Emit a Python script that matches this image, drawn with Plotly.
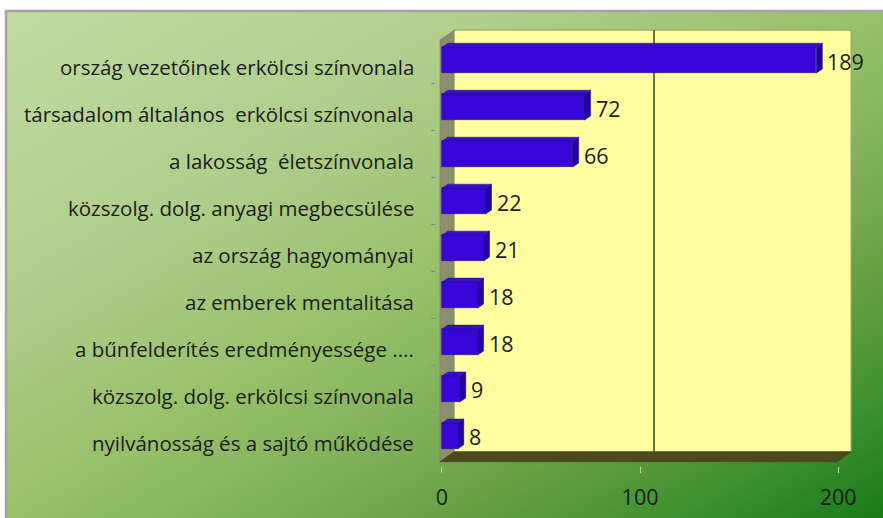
import base64

import plotly.graph_objects as go

# --- data -------------------------------------------------------------------
categories = [
    "ország vezetőinek erkölcsi színvonala",
    "társadalom általános  erkölcsi színvonala",
    "a lakosság  életszínvonala",
    "közszolg. dolg. anyagi megbecsülése",
    "az ország hagyományai",
    "az emberek mentalitása",
    "a bűnfelderítés eredményessége ....",
    "közszolg. dolg. erkölcsi színvonala",
    "nyilvánosság és a sajtó működése",
]
values = [189, 72, 66, 22, 21, 18, 18, 9, 8]
x_ticks = [0, 100, 200]
grid_at = [100]

# --- geometry / style -------------------------------------------------------
W, H = 883, 518
M_L, M_R, M_T, M_B = 436, 31, 24, 52
X_RANGE = [-3, 207]
Y_RANGE = [8.64, -0.77]          # reversed: first category on top
PX_X = (W - M_L - M_R) / (X_RANGE[1] - X_RANGE[0])
PX_Y = (H - M_T - M_B) / (Y_RANGE[0] - Y_RANGE[1])

BAR_W = 0.55
BAR_FRONT = "#3806d8"
BAR_SIDE = "#2404a0"
BAR_TOP = "#3310c4"
TEXT = "#1c1c1c"
FONT = "Open Sans"

# 3d box: depth offset in data units
DX = 14 / PX_X
DY = -10 / PX_Y
FRONT_L, FRONT_R = -1.0, 199.5
WALL_TOP = -0.64
FLOOR_Y = 8.55

# bar depth
BDX = 6 / PX_X
BDY = -4 / PX_Y

ys = list(range(len(categories)))

fig = go.Figure()

fig.add_trace(go.Bar(
    x=values, y=ys,
    orientation="h",
    width=BAR_W,
    marker=dict(color=BAR_FRONT, line=dict(color="#2a1080", width=0.6)),
    hoverinfo="skip",
    showlegend=False,
))

shapes = []

# back wall
shapes.append(dict(
    type="rect", layer="below",
    x0=FRONT_L + DX, x1=FRONT_R + DX, y0=WALL_TOP, y1=FLOOR_Y + DY,
    fillcolor="#ffffa2", line=dict(color="#8e9a60", width=1),
))
# left wall
shapes.append(dict(
    type="path", layer="below",
    path=(f"M{FRONT_L},{WALL_TOP - DY} L{FRONT_L + DX},{WALL_TOP} "
          f"L{FRONT_L + DX},{FLOOR_Y + DY} L{FRONT_L},{FLOOR_Y} Z"),
    fillcolor="#8c8f6e", line=dict(color="#7a7d5c", width=0.5),
))
# floor
shapes.append(dict(
    type="path", layer="below",
    path=(f"M{FRONT_L},{FLOOR_Y} L{FRONT_L + DX},{FLOOR_Y + DY} "
          f"L{FRONT_R + DX},{FLOOR_Y + DY} L{FRONT_R},{FLOOR_Y} Z"),
    fillcolor="#4a4a1c", line=dict(color="#3e3e16", width=0.5),
))
# gridline on the back wall
for g in grid_at:
    shapes.append(dict(
        type="line", layer="below",
        x0=g + DX, x1=g + DX, y0=WALL_TOP, y1=FLOOR_Y + DY,
        line=dict(color="#3f4a22", width=1.5),
    ))

# bar faces (right side + top)
for v, y in zip(values, ys):
    t = y - BAR_W / 2
    b = y + BAR_W / 2
    shapes.append(dict(
        type="path", layer="above",
        path=(f"M{v},{t} L{v + BDX},{t + BDY} L{v + BDX},{b + BDY} "
              f"L{v},{b} Z"),
        fillcolor=BAR_SIDE, line=dict(color="#1c0480", width=0.5),
    ))
    shapes.append(dict(
        type="path", layer="above",
        path=(f"M0,{t} L{BDX},{t + BDY} L{v + BDX},{t + BDY} L{v},{t} Z"),
        fillcolor=BAR_TOP, line=dict(color="#2a0c90", width=0.5),
    ))

# outer frame border
fx0 = (6 - M_L) / (W - M_L - M_R)
fx1 = (W + 2 - M_L) / (W - M_L - M_R)
fy0 = (H - M_B - H - 2) / (H - M_T - M_B)
fy1 = (H - M_B - 11) / (H - M_T - M_B)
shapes.append(dict(
    type="rect", xref="paper", yref="paper", layer="below",
    x0=fx0, x1=fx1, y0=fy0, y1=fy1,
    line=dict(color="#a4a4a4", width=2.5), fillcolor="rgba(0,0,0,0)",
))

# diagonal green gradient as an svg background image
stops = [
    (0.0, "#c2dba2"), (0.3, "#afcd8a"), (0.5, "#97c06a"), (0.64, "#80b05a"),
    (0.75, "#68a042"), (0.88, "#3e9030"), (1.0, "#177a17"),
]
svg = (
    '<svg xmlns="http://www.w3.org/2000/svg" width="875" height="506" '
    'preserveAspectRatio="none"><defs>'
    '<linearGradient id="g" x1="0" y1="0" x2="1" y2="1">'
    + "".join(f'<stop offset="{o}" stop-color="{c}"/>' for o, c in stops)
    + '</linearGradient></defs>'
    '<rect width="875" height="506" fill="url(#g)"/></svg>'
)
src = "data:image/svg+xml;base64," + base64.b64encode(svg.encode()).decode()

annotations = []
for c, y in zip(categories, ys):
    annotations.append(dict(
        x=0, y=y, xref="x", yref="y", text=c, showarrow=False,
        xanchor="right", xshift=-26, yshift=-7,
        font=dict(family=FONT, size=20.5, color=TEXT),
    ))
for v, y in zip(values, ys):
    annotations.append(dict(
        x=v, y=y, xref="x", yref="y", text=str(v), showarrow=False,
        xanchor="left", xshift=9, yshift=-1,
        font=dict(family=FONT, size=21.5, color=TEXT),
    ))

fig.update_layout(
    width=W, height=H,
    margin=dict(l=M_L, r=M_R, t=M_T, b=M_B, pad=0),
    paper_bgcolor="white",
    plot_bgcolor="rgba(0,0,0,0)",
    shapes=shapes,
    annotations=annotations,
    images=[dict(
        source=src, xref="paper", yref="paper",
        x=fx0, y=fy1, sizex=fx1 - fx0, sizey=fy1 - fy0,
        xanchor="left", yanchor="top", sizing="stretch", layer="below",
    )],
    xaxis=dict(
        range=X_RANGE, tickvals=x_ticks, ticktext=[str(t) for t in x_ticks],
        showgrid=False, zeroline=False, showline=False, automargin=False,
        ticks="outside", ticklen=6, tickcolor="#c4ccae", tickwidth=1,
        ticklabelstandoff=6,
        tickfont=dict(family=FONT, size=21.5, color=TEXT),
    ),
    yaxis=dict(
        range=Y_RANGE, tickvals=[y + 0.5 for y in ys[:-1]],
        showticklabels=False, showgrid=False, zeroline=False,
        showline=False, automargin=False,
        ticks="outside", ticklen=4, tickcolor="#8a8a8a",
    ),
    bargap=0,
)

# the page body has a default 8px margin; drop it so the figure sits at 0,0
fig.write_html(
    "out.html",
    config={"displayModeBar": False},
    post_script="document.body.style.margin='0';",
)
